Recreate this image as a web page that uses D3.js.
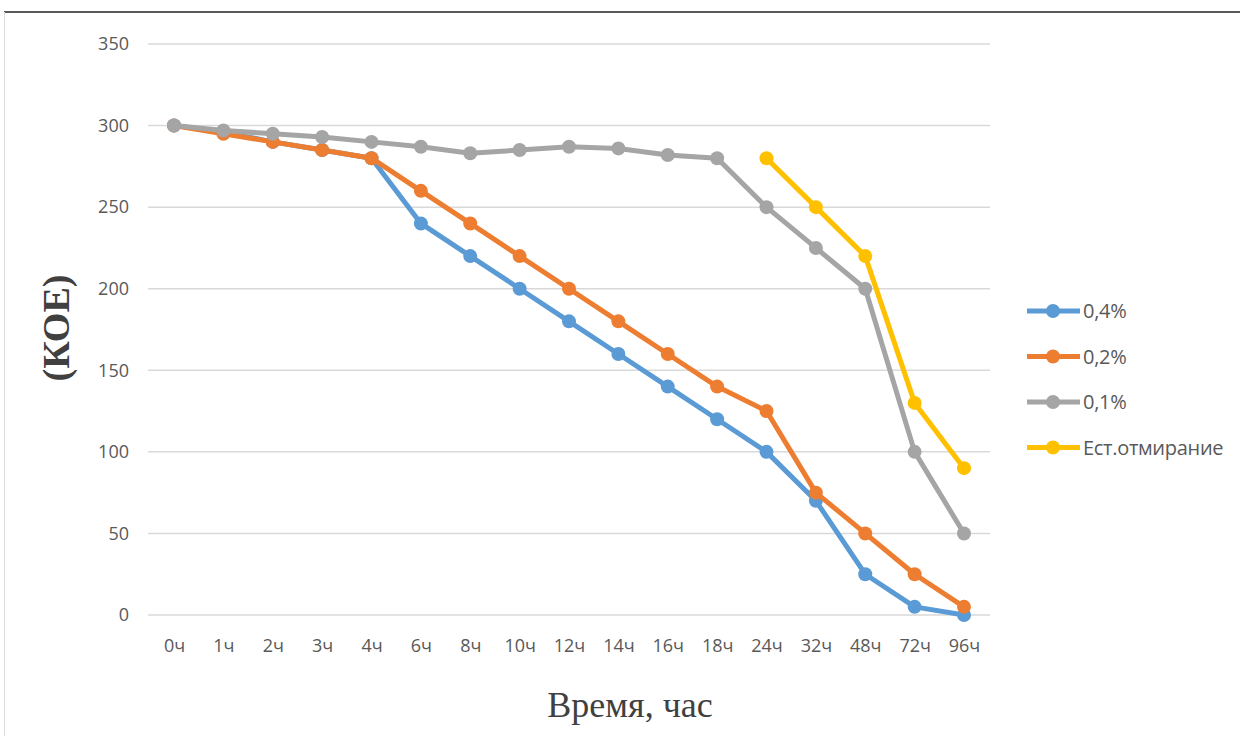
<!DOCTYPE html>
<html><head><meta charset="utf-8">
<script src="https://cdn.jsdelivr.net/npm/d3@7"></script>
<style>body{margin:0;background:#fff}svg{display:block}</style>
</head><body>
<svg id="c" width="1244" height="736"></svg>
<script>
const categories = ["0ч","1ч","2ч","3ч","4ч","6ч","8ч","10ч","12ч","14ч","16ч","18ч","24ч","32ч","48ч","72ч","96ч"];
const s04 = [300,296,290,285,280,240,220,200,180,160,140,120,100,70,25,5,0];
const s02 = [300,295,290,285,280,260,240,220,200,180,160,140,125,75,50,25,5];
const s01 = [300,297,295,293,290,287,283,285,287,286,282,280,250,225,200,100,50];
const sNat = [null,null,null,null,null,null,null,null,null,null,null,null,280,250,220,130,90];
const seriesNames = ["0,4%","0,2%","0,1%","Ест.отмирание"];
const yTicks = [0,50,100,150,200,250,300,350];
const colors = ["#5B9BD5","#ED7D31","#A5A5A5","#FFC000"];
const series = [s04,s02,s01,sNat];

const svg = d3.select("#c");
svg.append("line").attr("x1",4).attr("x2",1240).attr("y1",12).attr("y2",12).attr("stroke","#222").attr("stroke-width",1.5);
svg.append("line").attr("x1",4.5).attr("x2",4.5).attr("y1",12).attr("y2",736).attr("stroke","#ddd").attr("stroke-width",1);

const x = d3.scalePoint().domain(categories).range([174,964]);
const y = d3.scaleLinear().domain([0,350]).range([615,44]);
const lblFont = "'Open Sans',sans-serif";

svg.append("g").selectAll("line").data(yTicks).join("line")
  .attr("x1",148).attr("x2",990).attr("y1",d=>y(d)).attr("y2",d=>y(d))
  .attr("stroke","#D9D9D9").attr("stroke-width",1.5);

const yAxis = svg.append("g").attr("transform","translate(129,0)")
  .call(d3.axisLeft(y).tickValues(yTicks).tickSize(0).tickPadding(0));
yAxis.select(".domain").remove();
yAxis.selectAll("text").attr("fill","#595959").style("font-family",lblFont).style("font-size","18px");

const xAxis = svg.append("g").attr("transform","translate(0,639)")
  .call(d3.axisBottom(x).tickSize(0).tickPadding(0));
xAxis.select(".domain").remove();
xAxis.selectAll("text").attr("fill","#595959").style("font-family",lblFont).style("font-size","18px");

const line = d3.line().defined(d=>d!=null).x((d,i)=>x(categories[i])).y(d=>y(d));
series.forEach((s,k)=>{
  svg.append("path").datum(s).attr("d",line).attr("fill","none")
    .attr("stroke",colors[k]).attr("stroke-width",5).attr("stroke-linejoin","round");
  svg.append("g").selectAll("circle").data(s.map((v,i)=>({v,i})).filter(d=>d.v!=null)).join("circle")
    .attr("cx",d=>x(categories[d.i])).attr("cy",d=>y(d.v)).attr("r",7).attr("fill",colors[k]);
});

const lg = svg.append("g");
seriesNames.forEach((n,k)=>{
  const yy = 311 + k*45.5;
  lg.append("line").attr("x1",1027).attr("x2",1080).attr("y1",yy).attr("y2",yy).attr("stroke",colors[k]).attr("stroke-width",5);
  lg.append("circle").attr("cx",1053).attr("cy",yy).attr("r",7).attr("fill",colors[k]);
  lg.append("text").attr("x",1083).attr("y",yy).attr("dy","0.35em").attr("fill","#595959")
    .style("font-family",lblFont).style("font-size","20px").style("letter-spacing","-0.3px").text(n);
});

svg.append("text").attr("x",630).attr("y",717).attr("text-anchor","middle").attr("fill","#404040")
  .style("font-family","'Liberation Serif',serif").style("font-size","36px").text("Время, час");
svg.append("text").attr("transform","translate(69,328) rotate(-90)").attr("text-anchor","middle").attr("fill","#404040")
  .style("font-family","'Liberation Serif',serif").style("font-size","38px").style("font-weight","bold").text("(КОЕ)");
</script>
</body></html>
